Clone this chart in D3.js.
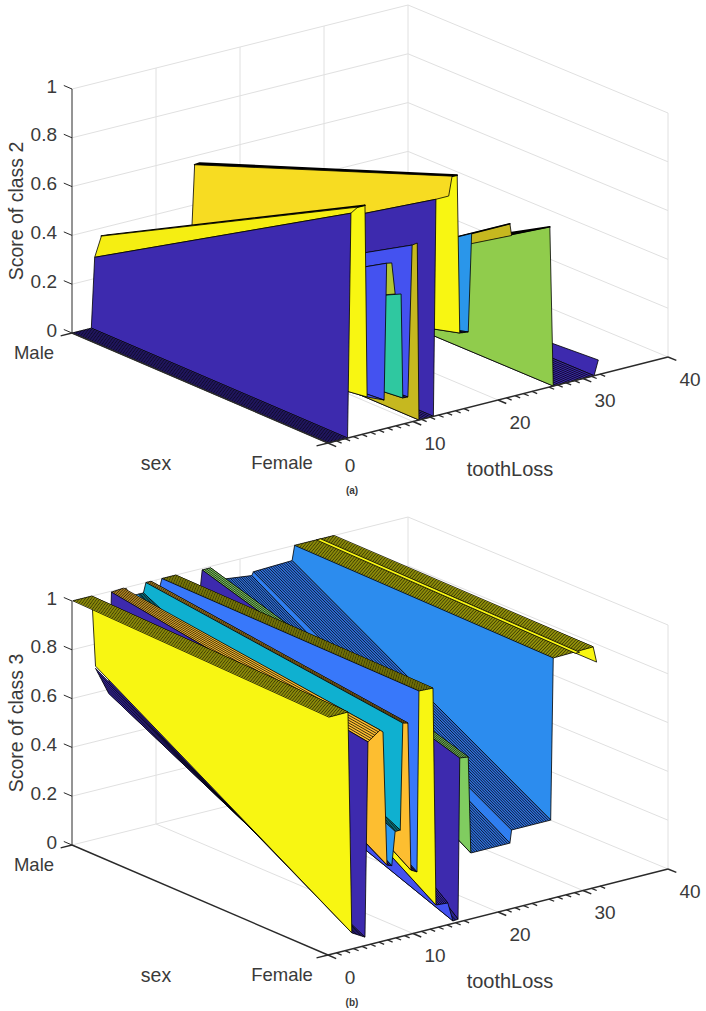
<!DOCTYPE html>
<html><head><meta charset="utf-8">
<script src="https://cdn.jsdelivr.net/npm/d3@7"></script>
<style>html,body{margin:0;background:#fff}svg{display:block}text{font-family:"Liberation Sans",Arial,sans-serif;fill:#3a3a3a}</style>
</head><body><svg id="c" width="706" height="1011"></svg>
<script>
// ---------- axis data ----------
const sexLabels = ["Male","Female"];
const zTicks = [0,0.2,0.4,0.6,0.8,1];
const zTickText = ["0","0.2","0.4","0.6","0.8","1"];
const toothMajor = [0,10,20,30,40];
const toothMinor = [1,2,3,4,5,6,7,8,9,11,12,13,14,15,16,21,22,23,24,26,27,28,29,31,32];
const toothGrid = [10,20,30];

// colours
const K="#000000",DK="#3d2aae",NV="#2a2490",YL="#f8f612",YS="#f5ee12",GD="#f7dc22",GR="#90cc4c",OL="#c6b81f",
      PW="#4452f0",TE="#2fc8a0",SK="#2a96ea",OG="#b2c635",BB="#2c8cee",B3="#3878fa",BH="#2f70dc",BD="#2f7ef0",
      GL="#80cc60",CY="#0fb0d0",TH="#10a0b0",OR="#fdbe30",BS="#2a9af0";

// ---------- class 2 surface: ribbons drawn far to near ----------
const toothA = [[31.3,31.8],[26.5,31.3],[26.1,26.5],[21.6,26.1],[21.4,21.6],[16.9,21.4],[16.5,16.9],[15.5,16.5],
  [14.6,15.2,15.5],[14.6,15.2],[12.7,14.2,14.6],[12.4,12.7],[10.7,12.4],[9.9,10.5,10.7],[9.4,9.9],[8.8,9.4],[8.6,8.8],
  [6.9,7.5,7.9],[6.6,6.9],[4.6,6.6],[3.5,4.35,4.6],[3.5,4.35],[2.7,3.5],[2.3,2.7],[0,2.3]];
const femaleA = [[0,0.06],[0,0],[0.656,0],[0.672,0.656],[0.71,0.66],[0.71,0.71],[0.31,0.71],[0.314,0.31],
  [0.965,0.964,0.314],[0.965,0.964],[0.887,0.887,0.965],[0,0.887],[0,0],[0.724,0.727,0],[0.106,0.724],[0.107,0.106],[0.535,0.107],
  [0.676,0.672,0.541],[0.118,0.676],[0.148,0.118],[0.936,0.936,0.148],[0.936,0.936],[0.918,0.936],[0,0.918],[0,0]];
const maleA = [[0,0],[0,0],[0,0],[0,0],[0,0],[0,0],[0,0],[0.03,0],
  [0.564,0.56,0.03],[0.564,0.566],[0.23,0.25,0.564],[0,0.23],[0,0],[0.1,0.078,0],[0.03,0.105],[0,0.03],[0.01,0],
  [0.05,0.03,0.01],[0.03,0.05],[0,0.03],[0.367,0.364,0],[0.367,0.364],[0.287,0.367],[0,0.287],[0,0]];
const colorA = [DK,DK,GR,K,OL,K,SK,NV,YL,K,GD,DK,DK,OL,PW,NV,TE,OG,PW,PW,YL,K,YS,DK,DK];
const rowsA  = [0,14,0,0,0,0,0,3,0,0,0,0,6,0,0,2,0,0,0,0,0,0,0,0,10];

// ---------- class 3 surface ----------
const toothB = [[31.2,31.6],[26.5,31.2],[29.1,29.6],[26.2,26.5],[21.6,26.2],[21.4,21.6],[16.8,21.4],[16.5,16.8],[15.5,16.5],[15.3,15.5],
  [14.7,15.3],[14.1,14.7],[12.7,14.1],[12.35,12.7],[10.7,12.35],[10.47,10.7],[9.75,10.47],[9.4,9.75],[8.8,9.4],[8.5,8.8],[7.9,8.5],[7.5,7.9],[6.94,7.5],
  [6.12,6.47,6.94],[4.7,6.12],[4.35,4.7],[2.8,4.35],[2.35,2.8],[0.1,2.35]];
const femaleB = [[0.988,0.922],[0.984,0.988],[0.98,0.98],[0.322,0.984],[0.322,0.322],[0.27,0.322],[0.27,0.27],[0.666,0.27],[0.671,0.666],[0.012,0.671],
  [0.01,0.012],[0.089,0.01],[0.093,0.089],[0.985,0.093],[0.988,0.985],[0.248,0.988],[0.262,0.248],[0.868,0.262],[0.873,0.868],[0.437,0.873],[0.437,0.437],[0.3,0.437],[0.307,0.3],
  [0.868,0.857,0.308],[0.832,0.868],[0.035,0.832],[0.066,0.035],[0.975,0.066],[0.974,0.975]];
const maleB = [[0.99,0.93],[1,1],[1,1],[0.94,1],[0.934,0.94],[0.92,0.934],[0.94,0.92],[0.994,0.94],[0.994,0.994],[0.93,0.994],
  [0.42,0.93],[0.93,0.42],[0.8,0.93],[1,0.8],[1,1],[0.97,1],[0.97,0.97],[1,0.97],[1,1],[0.96,1],[0.96,0.96],[0.96,0.96],[0.96,0.96],
  [0.996,0.996,0.96],[0.996,1],[0.585,0.996],[0.7,0.585],[1,0.709],[1,1]];
const colorB = [YL,YL,YL,BB,BH,BD,BH,GL,GL,DK,NV,PW,DK,YL,YL,B3,NV,OR,OR,CY,TH,BS,NV,OR,OR,DK,DK,YL,YL];
const rowsB  = [0,20,0,0,18,0,18,0,4,0,2,0,7,0,8,0,3,0,3,0,4,0,2,0,7,0,6,0,10];

// ---------- projection built from scales ----------
const sexX = d3.scaleLinear([0,1],[0,256]), sexY = d3.scaleLinear([0,1],[0,110]);
const toothXM = d3.scaleLinear([0,40],[0,336]), toothXF = d3.scaleLinear([0,40],[0,340]);
const toothYM = d3.scaleLinear([0,40],[0,-84]), toothYF = d3.scaleLinear([0,40],[0,-86]);
const zPix = d3.scaleLinear([0,1],[0,-244]);
const X0=72, Y0=333;
const P = (s,t,z)=>[X0+sexX(s)+toothXM(t)*(1-s)+toothXF(t)*s,
                    Y0+sexY(s)+toothYM(t)*(1-s)+toothYF(t)*s+zPix(z)];
const line = d3.line();
const closed = d3.line().curve(d3.curveLinearClosed);
const svg = d3.select("#c");

function panel(dy, zName, tag, ts, fs, ms, cs, rs){
  const g = svg.append("g").attr("transform",`translate(0,${dy})`);
  const grid = g.append("g").attr("fill","none").attr("stroke","#e0e0e0").attr("stroke-width",1);
  zTicks.forEach(z=>{
    grid.append("path").attr("d",line([P(0,0,z),P(0,40,z),P(1,40,z)]));
  });
  toothGrid.forEach(t=>{
    grid.append("path").attr("d",line([P(0,t,1),P(0,t,0),P(1,t,0)]));
  });
  grid.append("path").attr("d",line([P(0,40,1),P(0,40,0)]));
  grid.append("path").attr("d",line([P(1,40,1),P(1,40,0)]));

  // surface ribbons
  const surf = g.append("g");
  ts.forEach((tt,i)=>{
    const pts = tt.map((t,j)=>P(1,t,fs[i][j])).concat(tt.map((t,j)=>P(0,t,ms[i][j])).reverse());
    surf.append("path").attr("d",closed(pts)).attr("fill",cs[i])
      .attr("stroke","#000").attr("stroke-width",cs[i]===K?1.6:0.8).attr("stroke-linejoin","round");
    const n = rs[i];
    for(let k=1;k<n;k++){
      const u=k/n, t=tt[0]+(tt[1]-tt[0])*u;
      const f=fs[i][0]+(fs[i][1]-fs[i][0])*u, m=ms[i][0]+(ms[i][1]-ms[i][0])*u;
      surf.append("path").attr("d",line([P(0,t,m),P(1,t,f)])).attr("stroke","#000").attr("stroke-width",0.75).attr("fill","none");
    }
  });

  // axes
  const ax = g.append("g").attr("fill","none").attr("stroke","#2a2a2a").attr("stroke-width",1.4);
  ax.append("path").attr("d",line([P(0,0,0),P(0,0,1)])).attr("stroke-width",1);
  ax.append("path").attr("d",line([P(0,0,0),P(1,0,0)]));
  ax.append("path").attr("d",line([P(1,0,0),P(1,40,0)]));
  zTicks.forEach(z=>ax.append("path").attr("stroke-width",1).attr("d",line([P(0,0,z),P(-0.032,0,z)])));
  [0,1].forEach(s=>ax.append("path").attr("d",line([P(s,0,0),P(s,-1.35,0)])));
  toothMajor.forEach(t=>ax.append("path").attr("d",line([P(1,t,0),P(1.032,t,0)])));
  toothMinor.forEach(t=>ax.append("path").attr("stroke-width",1.3).attr("d",line([P(1,t,0),P(1.02,t,0)])));

  // labels
  const T=(s,x,y,size,o={})=>g.append("text").text(s).attr("x",x).attr("y",y)
      .attr("font-size",size).attr("text-anchor",o.anchor||"middle")
      .attr("dominant-baseline","central").attr("transform",o.rot?`rotate(${o.rot},${x},${y})`:null);
  zTicks.forEach((z,i)=>{const p=P(0,0,z);T(zTickText[i],57,p[1]-3,19,{anchor:"end"});});
  T(sexLabels[0],34,352,18.5);T(sexLabels[1],282,462,18.5);
  T("sex",156,463,19.5);
  toothMajor.forEach(t=>{const p=P(1,t,0);T(String(t),p[0]+22,p[1]+22,19);});
  T("toothLoss",510,469,20);
  T(zName,16,211,19.5,{rot:-90});
  g.append("text").text(tag).attr("x",352).attr("y",490).attr("font-size",10).attr("font-weight","bold")
    .attr("text-anchor","middle").attr("dominant-baseline","central");
}
panel(0,"Score of class 2","(a)",toothA,femaleA,maleA,colorA,rowsA);
panel(512,"Score of class 3","(b)",toothB,femaleB,maleB,colorB,rowsB);
</script></body></html>
